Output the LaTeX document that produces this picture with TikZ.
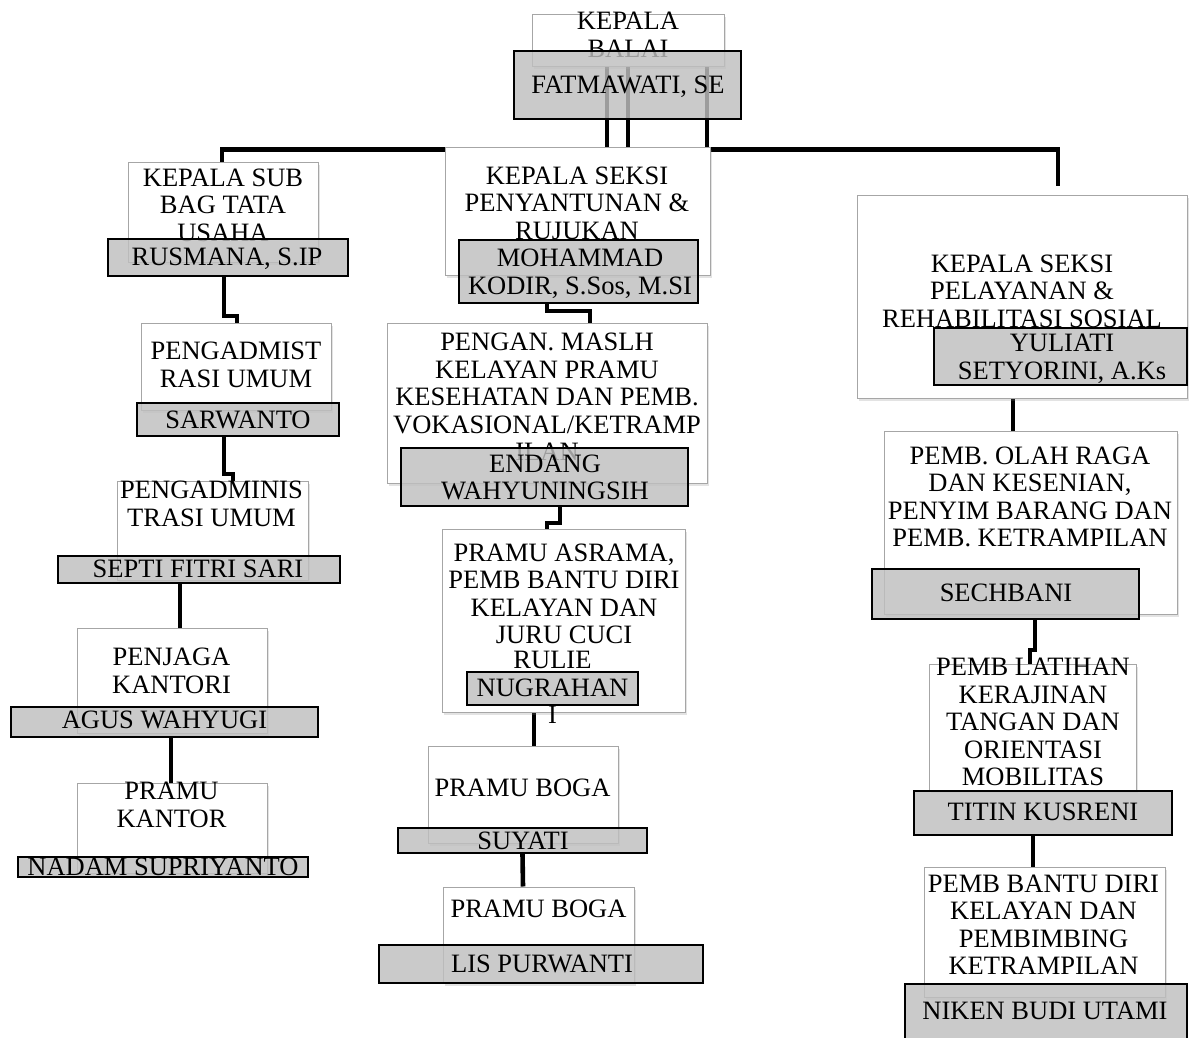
\documentclass[tikz,border=0pt]{standalone}
\usepackage{fontspec}
\setmainfont{Liberation Serif}
\usetikzlibrary{shadows}
\pgfdeclarelayer{bg}
\pgfdeclarelayer{links}
\pgfsetlayers{bg,links,main}
\tikzset{
  wbox/.style={draw=black!35, line width=1pt, fill=white, inner sep=0pt,
    drop shadow={shadow xshift=2pt, shadow yshift=-2.5pt, opacity=0.22}},
  gbox/.style={draw=black, line width=2pt, fill=black!25, fill opacity=0.82, inner sep=0pt},
  txt/.style={font=\fontsize{26.5}{27.5}\selectfont, align=center, inner sep=0pt,
    execute at begin node=\strut, execute at end node=\strut},
  conn/.style={line width=4.6pt, black},
}
\newcommand\wbox[5]{\node[wbox, minimum width={(#4-#2)*1pt}, minimum height={(#5-#3)*1pt}] (#1) at ({(#2+#4)/2},{(#3+#5)/2}) {};}
\newcommand\gbox[5]{\node[gbox, minimum width={(#4-#2)*1pt}, minimum height={(#5-#3)*1pt}] (#1) at ({(#2+#4)/2},{(#3+#5)/2}) {};}
\begin{document}
\begin{tikzpicture}[x=1pt,y=-1pt]
\begin{pgfonlayer}{bg}
\fill[white] (0,0) rectangle (1195,1038);
\end{pgfonlayer}
\useasboundingbox (0,0) rectangle (1195,1038);

% white boxes
\wbox{balai}{532}{15}{724}{67}
\wbox{subbag}{128}{163}{318}{262}
\wbox{adm1}{141}{323}{331}{410}
\wbox{adm2}{117}{481}{308}{580}
\wbox{penj}{77}{628}{267}{733}
\wbox{pkan}{77}{783}{267}{873}
\wbox{yrs}{445}{148}{710}{275}
\wbox{pengan}{387}{323}{707}{483}
\wbox{asrama}{442}{529}{685}{712}
\wbox{boga1}{428}{746}{618}{843}
\wbox{boga2}{443}{887}{634}{983}
\wbox{yan}{857}{196}{1187}{398}
\wbox{olah}{884}{431}{1177}{614}
\wbox{lat}{929}{664}{1136}{790}
\wbox{bantu}{924}{867}{1165}{997}

% white box texts
\node[txt] (balaiT) at (628,39) {KEPALA\\BALAI};
\node[txt] (subT) at (223,209) {KEPALA SUB\\BAG TATA\\USAHA};
\node[txt] (adm1T) at (236,369) {PENGADMIST\\RASI UMUM};
\node[txt] (adm2T) at (211.5,508) {PENGADMINIS\\TRASI UMUM};
\node[txt] (penjT) at (171.5,675) {PENJAGA\\KANTORI};
\node[txt] (pkanT) at (171.5,809) {PRAMU\\KANTOR};
\node[txt] (yrsT) at (577,207) {KEPALA SEKSI\\PENYANTUNAN \&\\RUJUKAN};
\node[txt] (penganT) at (547,401) {PENGAN. MASLH\\KELAYAN PRAMU\\KESEHATAN DAN PEMB.\\VOKASIONAL/KETRAMP\\ILAN};
\node[txt] (asramaT) at (564,598) {PRAMU ASRAMA,\\PEMB BANTU DIRI\\KELAYAN DAN\\JURU CUCI};
\node[txt] (boga1T) at (522.5,791) {PRAMU BOGA};
\node[txt] (boga2T) at (538.5,912) {PRAMU BOGA};
\node[txt] (yanT) at (1022,295) {KEPALA SEKSI\\PELAYANAN \&\\REHABILITASI SOSIAL};
\node[txt] (olahT) at (1030,501) {PEMB. OLAH RAGA\\DAN KESENIAN,\\PENYIM BARANG DAN\\PEMB. KETRAMPILAN};
\node[txt] (latT) at (1033,726) {PEMB LATIHAN\\KERAJINAN\\TANGAN DAN\\ORIENTASI\\MOBILITAS};
\node[txt] (bantuT) at (1043.5,929) {PEMB BANTU DIRI\\KELAYAN DAN\\PEMBIMBING\\KETRAMPILAN};

% grey boxes
\gbox{fat}{514}{51}{741}{119}
\gbox{rus}{108}{239}{348}{276}
\gbox{sarw}{137}{403}{339}{436}
\gbox{septi}{58}{556}{340}{583}
\gbox{agus}{11}{707}{318}{737}
\gbox{nadam}{18}{857}{308}{877}
\gbox{moh}{459}{240}{698}{303}
\gbox{endang}{401}{448}{688}{506}
\gbox{nug}{467}{672}{638}{705}
\gbox{suy}{398}{828}{647}{853}
\gbox{lis}{379}{945}{703}{983}
\gbox{yul}{934}{328}{1187}{385}
\gbox{sech}{872}{569}{1139}{619}
\gbox{titin}{914}{791}{1172}{835}
\gbox{niken}{905}{984}{1187}{1045}

% grey box texts
\node[txt] (fatT) at (628,88) {FATMAWATI, SE};
\node[txt] (rusT) at (227,260) {RUSMANA, S.IP};
\node[txt] (sarwT) at (238,423) {SARWANTO};
\node[txt] (septiT) at (198,572) {SEPTI FITRI SARI};
\node[txt] (agusT) at (164.5,723) {AGUS WAHYUGI};
\node[txt] (nadamT) at (163,870) {NADAM SUPRIYANTO};
\node[txt] (mohT) at (580,276) {MOHAMMAD\\KODIR, S.Sos, M.SI};
\node[txt] (endangT) at (545,481.5) {ENDANG\\WAHYUNINGSIH};
\node[txt] (nugT) at (552.5,691.5) {RULIE\\NUGRAHAN\\I};
\node[txt] (suyT) at (523,844) {SUYATI};
\node[txt] (lisT) at (542,967) {LIS PURWANTI};
\node[txt] (yulT) at (1062,361) {YULIATI\\SETYORINI, A.Ks};
\node[txt] (sechT) at (1006,596) {SECHBANI};
\node[txt] (titinT) at (1043,815) {TITIN KUSRENI};
\node[txt] (nikenT) at (1045,1014) {NIKEN BUDI UTAMI};

% connectors
\begin{pgfonlayer}{links}
\draw[conn] ([xshift=-21pt]balai.south) -- ++(0,83);
\draw[conn] (balai.south) -- ++(0,83);
\draw[conn] ([xshift=79pt]balai.south) -- ++(0,83);
\draw[conn] ([xshift=-1pt]subbag.north) -- ++(0,-13) -| ([xshift=36pt,yshift=9pt]yan.north);
\draw[conn] ([xshift=-4pt]rus.south) -- ++(0,39) -| ([xshift=1pt]adm1.north);
\draw[conn] ([xshift=-14pt]sarw.south) -- ++(0,37) -| ([xshift=20.5pt]adm2.north);
\draw[conn] ([xshift=-19pt]septi.south) -- ([xshift=8pt]penj.north);
\draw[conn] ([xshift=6.5pt]agus.south) -- ([xshift=-1pt]pkan.north);
\draw[conn] ([xshift=-31.5pt]moh.south) -- ++(0,7) -| ([xshift=43pt]pengan.north);
\draw[conn] ([xshift=15.5pt]endang.south) -- ++(0,16) -| ([xshift=-16.5pt]asrama.north);
\draw[conn] ([xshift=-29.5pt]asrama.south) -- ([xshift=11pt]boga1.north);
\draw[conn] (suy.south) -- ([xshift=-15.5pt]boga2.north);
\draw[conn] ([xshift=-9pt]yan.south) -- ([xshift=-17.5pt]olah.north);
\draw[conn] ([xshift=29.5pt]sech.south) -- ++(0,30) -| ([xshift=-2.5pt]lat.north);
\draw[conn] ([xshift=-10pt]titin.south) -- ([xshift=-11.5pt]bantu.north);
\end{pgfonlayer}
\end{tikzpicture}
\end{document}
